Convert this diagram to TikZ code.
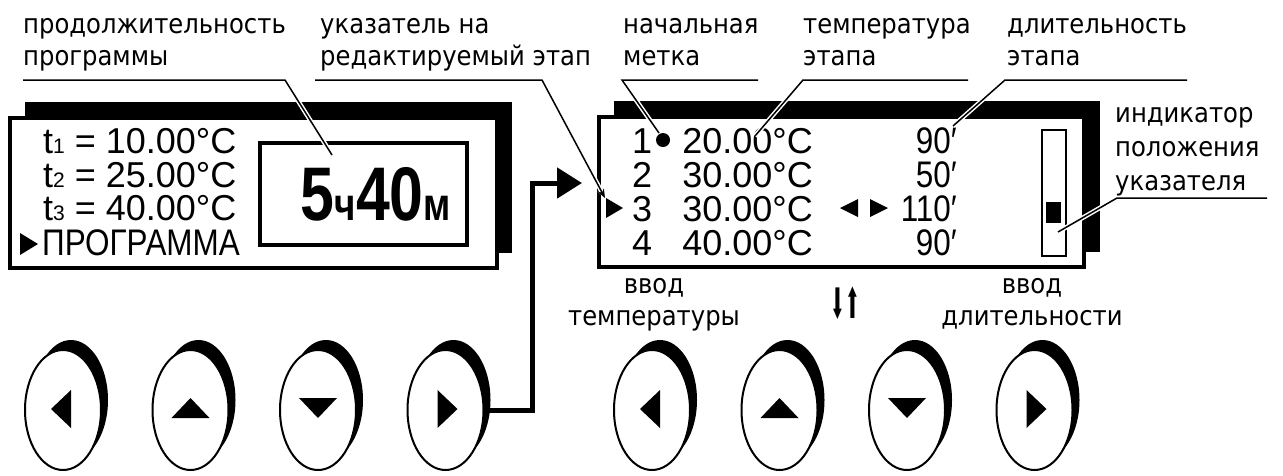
\documentclass[tikz,border=0pt]{standalone}
\usepackage{fontspec}
\setmainfont{Liberation Sans}
\newfontfamily\lbl[FakeStretch=0.9]{DejaVu Sans}
\newfontfamily\arr[FakeStretch=0.42]{DejaVu Sans}
\newfontfamily\lcd{Liberation Sans}
\newfontfamily\lcdn[FakeStretch=0.85]{Liberation Sans}
\newfontfamily\lcdb[FakeStretch=0.8]{Liberation Sans}
\usetikzlibrary{arrows.meta,shapes.geometric}
\begin{document}
\begin{tikzpicture}[x=1pt,y=-1pt,
  lab/.style={inner sep=0pt,anchor=base west,font=\lbl\fontsize{27}{27}\selectfont},
  labc/.style={inner sep=0pt,anchor=base,font=\lbl\fontsize{27}{27}\selectfont},
  lcdt/.style={inner sep=0pt,anchor=base west,font=\lcd\fontsize{36}{36}\selectfont},
  lcdr/.style={inner sep=0pt,anchor=base east,font=\lcd\fontsize{36}{36}\selectfont},
  lcdd/.style={inner sep=0pt,anchor=base east,font=\lcdn\fontsize{37}{37}\selectfont},
  leader/.style={line width=1.5pt,preaction={draw=white,line width=4.5pt}},
  btn/.style={ellipse,draw,line width=2pt,fill=white,minimum width=76pt,minimum height=120pt,inner sep=0pt},
  shadowfill/.style={fill=black},
  panel/.style={draw,line width=3.5pt,fill=white}]
\fill[white] (0,0) rectangle (1283,475);
\useasboundingbox (0,0) rectangle (1283,475);

% ---------- left display ----------
\fill[shadowfill] (25,102) rectangle (512,253);
\draw[panel] (10,118) rectangle (497,268);
\node[lcdt] (t1) at (43,153) {t{\fontsize{21}{21}\selectfont 1} = 10.00°C};
\node[lcdt] (t2) at (43,187) {t{\fontsize{21}{21}\selectfont 2} = 25.00°C};
\node[lcdt] (t3) at (43,220) {t{\fontsize{21}{21}\selectfont 3} = 40.00°C};
\fill (20,233) -- (38,244) -- (20,255) -- cycle;
\node[inner sep=0pt,anchor=base west,font=\lcdn\fontsize{37}{37}\selectfont] (prg) at (42,255) {ПРОГРАММА};
\draw[line width=4pt,fill=white] (260,143) rectangle (467,245);
\node[inner sep=0pt,anchor=base,font=\lcdb\bfseries\fontsize{76}{76}\selectfont] (dur) at (376,220)
  {5{\fontsize{46}{46}\selectfont ч}40{\fontsize{46}{46}\selectfont м}};

% ---------- right display ----------
\fill[shadowfill] (614,101) rectangle (1100,252);
\draw[panel] (599,117) rectangle (1084,267);
\foreach \i/\yy/\tt/\dd in {1/153/20.00/90,2/187/30.00/50,3/221/30.00/110,4/255/40.00/90}{
  \node[lcdt] (n\i) at (632,\yy) {\i};
  \node[lcdr] (T\i) at (813,\yy) {\tt°C};
  \node[lcdd] (D\i) at (957,\yy) {\dd′};
}
\fill (663,140) circle (7);
\fill (606,198) -- (623,208) -- (606,218) -- cycle;
\fill (858,199) -- (840,208) -- (858,217) -- cycle;
\fill (870,199) -- (888,208) -- (870,217) -- cycle;
\draw[line width=2pt] (1042,130) rectangle (1066,256);
\fill (1046,202) rectangle (1061,223);

% ---------- top labels ----------
\node[lab] (a1) at (23,33) {продолжительность};
\node[lab] (a2) at (23,65) {программы};
\node[lab] (b1l) at (320,33) {указатель на};
\node[lab] (b2l) at (320,65) {редактируемый этап};
\node[lab] (c1) at (623,33) {начальная};
\node[lab] (c2) at (623,65) {метка};
\node[lab] (d1) at (803,33) {температура};
\node[lab] (d2) at (803,65) {этапа};
\node[lab] (e1) at (1007,33) {длительность};
\node[lab] (e2) at (1007,65) {этапа};
\node[lab] (f1) at (1115,122) {индикатор};
\node[lab] (f2) at (1115,156) {положения};
\node[lab] (f3) at (1115,190) {указателя};

% leader coordinates
\coordinate (p1a) at (23,80);   \coordinate (p1b) at (285,80);  \coordinate (p1c) at (332,155);
\coordinate (p2a) at (315,80);  \coordinate (p2b) at (542,80);  \coordinate (p2c) at (605,198);
\coordinate (p3a) at (758,80);  \coordinate (p3b) at (622,80);  \coordinate (p3c) at (659,133);
\coordinate (p4a) at (968,80);  \coordinate (p4b) at (803,80);  \coordinate (p4c) at (755,136);
\coordinate (p5a) at (1187,80); \coordinate (p5b) at (1005,80); \coordinate (p5c) at (953,126);
\coordinate (p6a) at (1267,198);\coordinate (p6b) at (1117,198);\coordinate (p6c) at (1058,232);
\draw[leader] (p1a) -- (p1b) -- (p1c);
\draw[leader,-{Stealth[length=9pt,width=7pt]}] (p2a) -- (p2b) -- (p2c);
\draw[leader] (p3a) -- (p3b) -- (p3c);
\draw[leader] (p4a) -- (p4b) -- (p4c);
\draw[leader] (p5a) -- (p5b) -- (p5c);
\draw[leader] (p6a) -- (p6b) -- (p6c);

% ---------- bottom labels ----------
\node[labc] (g1) at (654,293) {ввод};
\node[labc] (g2) at (654,325) {температуры};
\node[labc] (h1) at (1032,293) {ввод};
\node[labc] (h2) at (1032,325) {длительности};
\node[inner sep=0pt,anchor=base,font=\arr\fontsize{42}{42}\selectfont] (ud) at (845,318) {⬇⬆};

% ---------- buttons ----------
\foreach \n/\cx in {k1/63,k2/190.5,k3/318,k4/445.5,k5/652,k6/779.5,k7/907,k8/1034.5}{
  \fill (\cx+8,400) ellipse [x radius=37, y radius=60];
  \node[btn] (\n) at (\cx,410) {};
}
\foreach \cx in {63,652}{\fill (\cx+8,390) -- (\cx-12,409) -- (\cx+8,428) -- cycle;}
\foreach \cx in {190.5,779.5}{\fill (\cx-19,418) -- (\cx,398) -- (\cx+19,418) -- cycle;}
\foreach \cx in {318,907}{\fill (\cx-19,398) -- (\cx+19,398) -- (\cx,418) -- cycle;}
\foreach \cx in {445.5,1034.5}{\fill (\cx-8,390) -- (\cx+12,409) -- (\cx-8,428) -- cycle;}

% ---------- connector ----------
\coordinate (rin) at (582,183);
\draw[line width=5pt,-{Triangle[length=25pt,width=30pt]}] (k4.east) -- ++(48,0) |- (rin);
\end{tikzpicture}
\end{document}
